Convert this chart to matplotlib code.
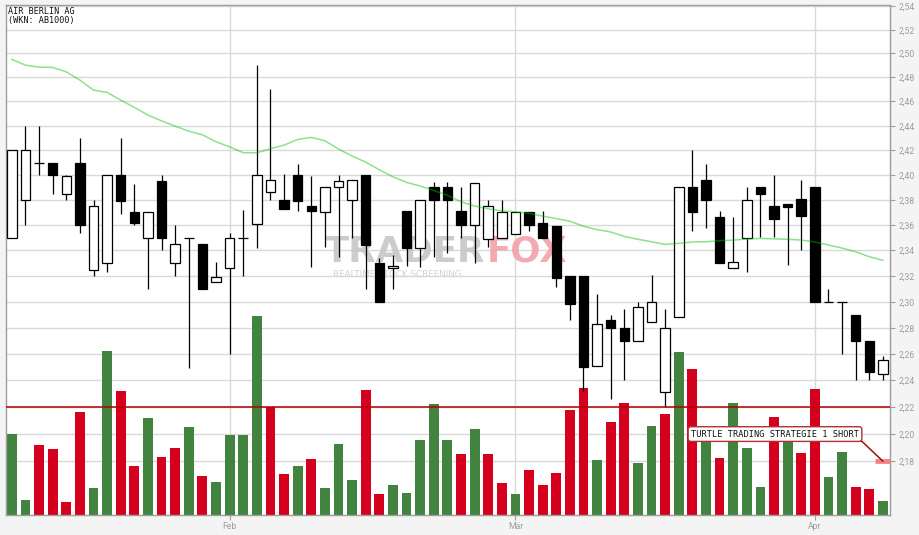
import matplotlib
matplotlib.use('Agg')
import matplotlib.pyplot as plt
from matplotlib.patches import Rectangle
from matplotlib.ticker import FixedLocator, FuncFormatter, NullLocator
import numpy as np

plt.rcParams['font.family'] = ['Roboto', 'DejaVu Sans']

title = 'AIR BERLIN AG'
subtitle = '(WKN: AB1000)'

# daily candles, one per trading day
opens = [2.35, 2.38, 2.41, 2.41, 2.385, 2.41, 2.325, 2.33, 2.40, 2.37,
         2.35, 2.395, 2.33, 2.35, 2.345, 2.315, 2.326, 2.35, 2.361, 2.386,
         2.38, 2.40, 2.375, 2.37, 2.39, 2.38, 2.40, 2.33, 2.326, 2.3715,
         2.342, 2.39, 2.39, 2.3715, 2.36, 2.349, 2.35, 2.353, 2.37, 2.362,
         2.359, 2.32, 2.32, 2.251, 2.286, 2.28, 2.27, 2.284, 2.231, 2.288,
         2.39, 2.396, 2.3667, 2.326, 2.35, 2.39, 2.375, 2.3765, 2.381, 2.39,
         2.30, 2.30, 2.29, 2.27, 2.2445]
highs = [2.42, 2.44, 2.44, 2.41, 2.40, 2.43, 2.38, 2.40, 2.43, 2.393,
         2.37, 2.40, 2.36, 2.35, 2.345, 2.331, 2.354, 2.372, 2.49, 2.47,
         2.401, 2.409, 2.399, 2.39, 2.40, 2.396, 2.40, 2.334, 2.336, 2.3715,
         2.38, 2.394, 2.394, 2.39, 2.3935, 2.38, 2.38, 2.3705, 2.37, 2.3715,
         2.359, 2.32, 2.32, 2.306, 2.2895, 2.2946, 2.30, 2.321, 2.294, 2.39,
         2.42, 2.409, 2.3715, 2.366, 2.39, 2.39, 2.40, 2.3765, 2.396, 2.39,
         2.31, 2.30, 2.29, 2.27, 2.2587]
lows = [2.35, 2.36, 2.40, 2.385, 2.38, 2.354, 2.32, 2.323, 2.369, 2.36,
        2.31, 2.34, 2.32, 2.249, 2.31, 2.315, 2.26, 2.32, 2.342, 2.38,
        2.373, 2.371, 2.327, 2.343, 2.335, 2.35, 2.31, 2.30, 2.31, 2.328,
        2.327, 2.335, 2.338, 2.35, 2.33, 2.343, 2.35, 2.353, 2.355, 2.35,
        2.3115, 2.286, 2.232, 2.251, 2.226, 2.24, 2.27, 2.284, 2.22, 2.288,
        2.355, 2.3575, 2.33, 2.326, 2.323, 2.3505, 2.3505, 2.3285, 2.34, 2.30,
        2.30, 2.26, 2.24, 2.24, 2.24]
closes = [2.42, 2.42, 2.41, 2.40, 2.399, 2.36, 2.375, 2.40, 2.379, 2.362,
          2.37, 2.35, 2.345, 2.35, 2.31, 2.319, 2.35, 2.35, 2.40, 2.396,
          2.373, 2.379, 2.371, 2.39, 2.3955, 2.396, 2.344, 2.30, 2.328, 2.3415,
          2.38, 2.38, 2.38, 2.36, 2.3935, 2.3755, 2.37, 2.3705, 2.36, 2.35,
          2.318, 2.298, 2.25, 2.283, 2.28, 2.27, 2.296, 2.30, 2.28, 2.39,
          2.37, 2.38, 2.33, 2.3305, 2.38, 2.3845, 2.365, 2.3745, 2.367, 2.30,
          2.30, 2.30, 2.27, 2.2465, 2.2557]
# volume in thousand shares
volume = [81, 15, 70, 66, 13, 103, 27, 164, 124, 49,
          97, 58, 67, 88, 39, 33, 80, 80, 199, 108,
          41, 49, 56, 27, 71, 35, 125, 21, 30, 22,
          75, 111, 75, 61, 86, 61, 32, 21, 45, 30,
          42, 105, 127, 55, 93, 112, 52, 89, 101, 163,
          146, 82, 57, 112, 67, 28, 98, 80, 62, 126,
          38, 63, 28, 26, 14]
# moving average of the close
ma_line = [2.4950, 2.4902, 2.4885, 2.4883, 2.4846, 2.4777, 2.4694, 2.4675, 2.4611, 2.4551,
           2.4488, 2.4440, 2.4397, 2.4356, 2.4326, 2.4269, 2.4228, 2.4180, 2.4180, 2.4212,
           2.4242, 2.4288, 2.4305, 2.4277, 2.4210, 2.4153, 2.4104, 2.4042, 2.3985, 2.3940,
           2.3911, 2.3876, 2.3836, 2.3785, 2.3751, 2.3729, 2.3713, 2.3705, 2.3693, 2.3671,
           2.3651, 2.3630, 2.3590, 2.3564, 2.3545, 2.3510, 2.3487, 2.3468, 2.3447, 2.3455,
           2.3466, 2.3468, 2.3476, 2.3481, 2.3489, 2.3494, 2.3491, 2.3487, 2.3481, 2.3466,
           2.3442, 2.3418, 2.3389, 2.3350, 2.3322]
month_labels = ['Feb', 'Mär', 'Apr']
month_pos = [16, 37, 59]
level = 2.22
signal_price = 2.18
signal_text = 'TURTLE TRADING STRATEGIE 1 SHORT'

n = len(closes)
x = np.arange(n)
price_ticks = np.round(np.arange(2.18, 2.5401, 0.02), 2)

fig = plt.figure(figsize=(9.2, 5.35), dpi=100, facecolor='#f4f4f4')
rect = [6 / 920, 20 / 535, 884 / 920, 510 / 535]
ax = fig.add_axes(rect, label='grid')
axv = fig.add_axes(rect, sharex=ax, label='vol')
axp = fig.add_axes(rect, sharex=ax, sharey=ax, label='price')
ax.set_zorder(0)
axv.set_zorder(1)
axp.set_zorder(2)

gray = '#9d9d9d'
ax.set_facecolor('white')
ax.set_yscale('log')
ax.set_xlim(-0.43, n - 0.48)
ax.set_ylim(2.141, 2.541)
ax.yaxis.set_major_locator(FixedLocator(price_ticks))
ax.yaxis.set_minor_locator(NullLocator())
ax.yaxis.set_major_formatter(FuncFormatter(lambda v, _: f'{v:.2f}'.replace('.', ',')))
ax.yaxis.tick_right()
ax.set_xticks(month_pos, month_labels)
ax.tick_params(axis='y', which='major', direction='out', length=3.4, width=0.8,
               color=gray, labelcolor=gray, labelsize=6.2, pad=3)
ax.tick_params(axis='x', direction='out', length=3.6, width=0.8,
               color=gray, labelcolor=gray, labelsize=6.2, pad=1.5)
ax.grid(True, color='#d9d9d9', lw=1)
for s in ax.spines.values():
    s.set_visible(False)

# volume bars
up = [True] + [closes[i] >= closes[i - 1] for i in range(1, n)]
vol_colors = ['#41833f' if u else '#d4001e' for u in up]
axv.bar(x, volume, width=0.72, color=vol_colors, lw=0)
axv.set_ylim(0, 510)
axv.axis('off')

# price panel
axp.patch.set_visible(False)
axp.tick_params(left=False, right=False, bottom=False, top=False,
                labelleft=False, labelbottom=False, labelright=False)
for s in axp.spines.values():
    s.set_color(gray)
    s.set_linewidth(1)

axp.text((325 - 6) / 884, (515 - 251.5) / 510, 'TRADER', transform=axp.transAxes,
         family='DejaVu Sans', weight='bold', size=25.7, color='#c4c4c4',
         alpha=0.85, ha='left', va='center', zorder=1)
axp.text((487 - 6) / 884, (515 - 251.5) / 510, 'FOX', transform=axp.transAxes,
         family='DejaVu Sans', weight='bold', size=25.7, color='#f2a2aa',
         alpha=0.9, ha='left', va='center', zorder=1)
axp.text((333 - 6) / 884, (515 - 274.3) / 510, 'REALTIME STOCK SCREENING',
         transform=axp.transAxes, family='DejaVu Sans', size=6.3, color='#d2d2d2',
         ha='left', va='center', zorder=1)

w = 0.70
for i in range(n):
    o, h, l, c = opens[i], highs[i], lows[i], closes[i]
    axp.vlines(i, l, h, color='black', lw=0.9, zorder=2)
    face = 'white' if c >= o else 'black'
    axp.add_patch(Rectangle((i - w / 2, min(o, c)), w, abs(c - o),
                            facecolor=face, edgecolor='black', lw=0.9, zorder=3))

axp.plot(x, ma_line, color='#00c000', alpha=0.45, lw=1.1, zorder=4)
axp.axhline(level, color='#b40000', lw=1.1, zorder=4)

axp.plot([n - 1.57, n - 0.45], [signal_price, signal_price], color='#f38080',
         lw=3.4, solid_capstyle='butt', clip_on=False, zorder=5)
axp.annotate(signal_text, xy=(n - 1, signal_price), xytext=(56.07, 2.20),
             textcoords='data', ha='center', va='center',
             family='DejaVu Sans Mono', size=6.2, color='#111111',
             bbox=dict(boxstyle='round,pad=0.33,rounding_size=0.3', fc='white',
                       ec='#b03030', lw=1),
             arrowprops=dict(arrowstyle='-', color='#9a1010', lw=1.1,
                             relpos=(1, 0), shrinkA=0, shrinkB=0),
             zorder=6)

fig.text(8 / 920, 1 - 11.7 / 535, title, family='DejaVu Sans Mono', size=6.1,
         va='center', ha='left', color='#111111')
fig.text(8 / 920, 1 - 20.8 / 535, subtitle, family='DejaVu Sans Mono', size=6.1,
         va='center', ha='left', color='#111111')

fig.savefig('out.png', dpi=100, facecolor=fig.get_facecolor())
